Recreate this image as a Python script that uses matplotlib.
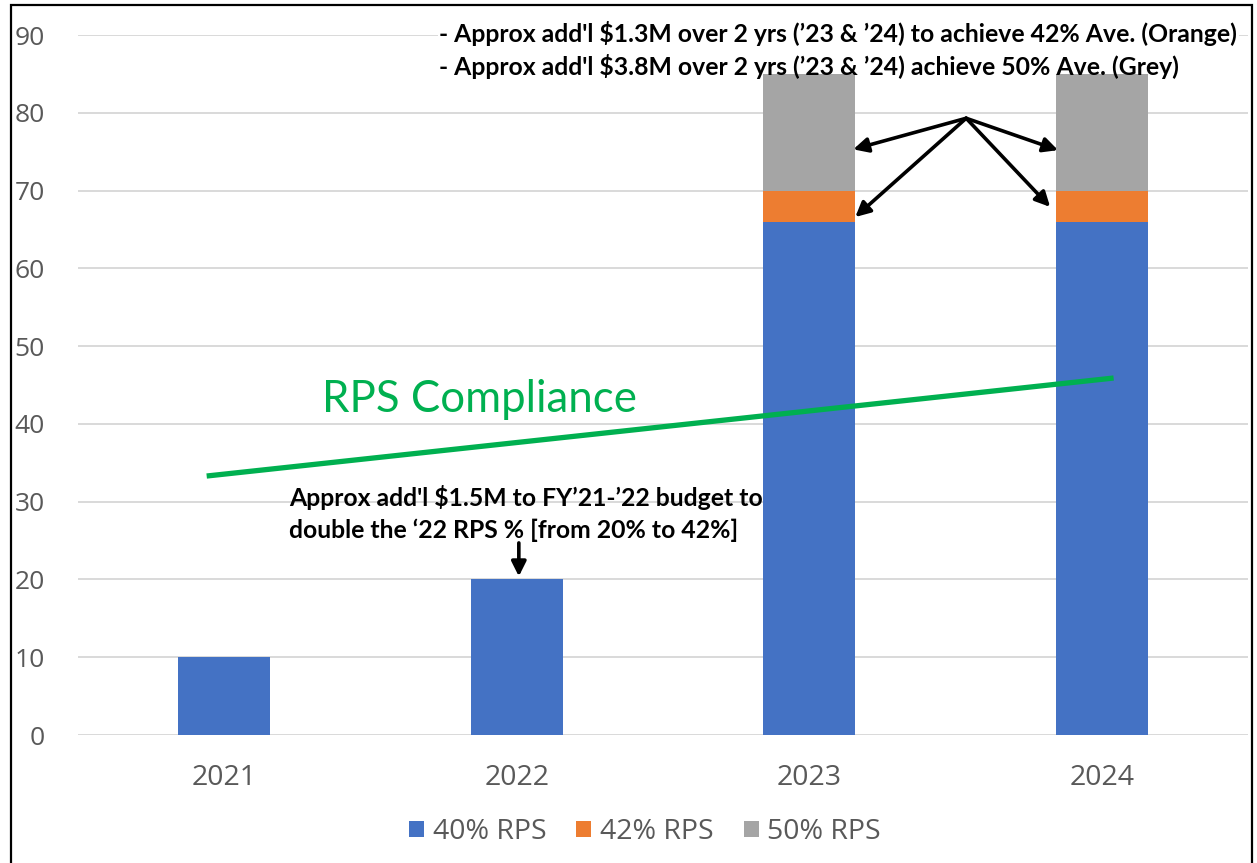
import matplotlib.pyplot as plt
from matplotlib.patches import Rectangle

# chart values
years = ['2021', '2022', '2023', '2024']
rps_40 = [10, 20, 66, 66]
rps_42 = [0, 0, 4, 4]
rps_50 = [0, 0, 15, 15]
series_names = ['40% RPS', '42% RPS', '50% RPS']

# RPS compliance trend line (x in category units, y in %)
compliance_x = [-0.06, 3.04]
compliance_y = [33.3, 45.9]

note_top = ["- Approx add'l $1.3M over 2 yrs (\u201923 & \u201924) to achieve 42% Ave. (Orange)",
            "- Approx add'l $3.8M over 2 yrs (\u201923 & \u201924) achieve 50% Ave. (Grey)"]
note_2022 = ["Approx add'l $1.5M to FY\u201921-\u201922 budget to",
             "double the \u201822 RPS % [from 20% to 42%]"]

BLUE = '#4472C4'
ORANGE = '#ED7D31'
GREY = '#A5A5A5'
GREEN = '#00B050'
TXT = '#595959'

fig = plt.figure(figsize=(12.57, 8.63), dpi=100)
ax = fig.add_axes([0.062, 0.1483, 0.931, 0.8111])

x = list(range(len(years)))
width = 0.315
bottom_42 = rps_40
bottom_50 = [a + b for a, b in zip(rps_40, rps_42)]

ax.bar(x, rps_40, width, color=BLUE, label=series_names[0], zorder=2)
ax.bar(x, rps_42, width, bottom=bottom_42, color=ORANGE, label=series_names[1], zorder=2)
ax.bar(x, rps_50, width, bottom=bottom_50, color=GREY, label=series_names[2], zorder=2)

ax.plot(compliance_x, compliance_y, color=GREEN, lw=3.8, solid_capstyle='butt', zorder=3)
ax.text(0.335, 43.1, 'RPS Compliance', color=GREEN, fontsize=31.5, family='Lato',
        ha='left', va='center', zorder=4)

ax.set_xlim(-0.5, 3.5)
ax.set_ylim(0, 90)
ax.set_yticks(range(0, 91, 10))
ax.set_xticks(x)
ax.set_xticklabels(years)
ax.tick_params(axis='both', length=0, labelcolor=TXT)
ax.tick_params(axis='y', pad=24, labelsize=19)
ax.tick_params(axis='x', pad=21, labelsize=20.5)
for lab in ax.get_xticklabels() + ax.get_yticklabels():
    lab.set_family('Open Sans')
ax.grid(axis='y', color='#D9D9D9', lw=1.4, zorder=0)
ax.set_axisbelow(True)
for s in ax.spines.values():
    s.set_visible(False)

# annotations
for i, line in enumerate(note_top):
    bb = dict(facecolor='white', edgecolor='none', pad=1) if i == 0 else None
    ax.text(0.735, 90.2 - 4.25 * i, line, fontsize=17.8, family='Lato', weight='bold',
            ha='left', va='center', zorder=5, bbox=bb)
for i, line in enumerate(note_2022):
    ax.text(0.222, 30.6 - 4.25 * i, line, fontsize=17.8, family='Lato', weight='bold',
            ha='left', va='center', zorder=5)

arrow_kw = dict(arrowstyle='-|>', color='black', lw=2.6, mutation_scale=22, shrinkA=0, shrinkB=0)
ax.annotate('', xy=(1.007, 20.4), xytext=(1.007, 24.7), arrowprops=arrow_kw, zorder=6)
origin = (2.536, 79.3)
targets = [(2.15, 75.3), (2.157, 66.6), (2.85, 75.2), (2.823, 67.9)]
for t in targets:
    ax.annotate('', xy=t, xytext=origin, arrowprops=arrow_kw, zorder=6)

leg = fig.legend(loc='center', bbox_to_anchor=(645 / 1257, 1 - 832 / 863), ncol=3,
                 frameon=False, handlelength=0.53, handleheight=0.53, handletextpad=0.3,
                 columnspacing=1.05, prop={'family': 'Open Sans', 'size': 20.5})
for t in leg.get_texts():
    t.set_color(TXT)

# outer frame of the pasted chart
fig.add_artist(Rectangle((11 / 1257, -0.02), (1252 - 11) / 1257, 1.02 - 5 / 863,
                         transform=fig.transFigure, fill=False, lw=1.6, color='black'))

fig.savefig('out.png', dpi=100)
